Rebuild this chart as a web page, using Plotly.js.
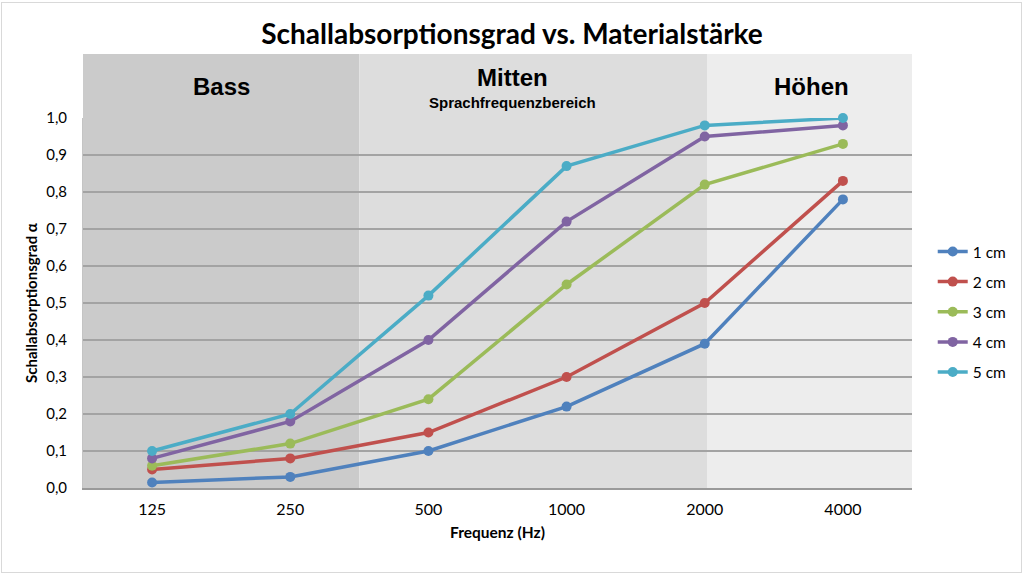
<!DOCTYPE html>
<html>
<head>
<meta charset="utf-8">
<script src="https://cdn.plot.ly/plotly-3.0.1.min.js"></script>
<style>
  body { margin: 0; background: #fff; }
  #wrap { position: relative; width: 1024px; height: 575px; }
  #chart { width: 1024px; height: 575px; }
  #frame { position: absolute; left: 1px; top: 2px; width: 1019px; height: 569px;
           border: 1px solid #d9d9d9; pointer-events: none; }
</style>
</head>
<body>
<div id="wrap">
  <div id="chart"></div>
  <div id="frame"></div>
</div>
<script>
// frequencies (category axis)
var freqs = ['125', '250', '500', '1000', '2000', '4000'];

// absorption coefficient per material thickness
var seriesNames = ['1 cm', '2 cm', '3 cm', '4 cm', '5 cm'];
var cm1 = [0.015, 0.03, 0.10, 0.22, 0.39, 0.78];
var cm2 = [0.05, 0.08, 0.15, 0.30, 0.50, 0.83];
var cm3 = [0.06, 0.12, 0.24, 0.55, 0.82, 0.93];
var cm4 = [0.08, 0.18, 0.40, 0.72, 0.95, 0.98];
var cm5 = [0.10, 0.20, 0.52, 0.87, 0.98, 1.00];
var seriesColors = ['#4F81BD', '#C0504D', '#9BBB59', '#8064A2', '#4BACC6'];

// frequency bands (positions in category units)
var bandNames = ['Bass', 'Mitten', 'Höhen'];
var bandStart = [-0.5, 1.5, 4.02];
var bandEnd = [1.5, 4.02, 5.5];
var bandColors = ['#cbcbcb', '#dddddd', '#ededed'];

var yTicks = [0, 0.1, 0.2, 0.3, 0.4, 0.5, 0.6, 0.7, 0.8, 0.9, 1.0];

var allValues = [cm1, cm2, cm3, cm4, cm5];
var data = [];
for (var i = 0; i < allValues.length; i++) {
  data.push({
    x: freqs,
    y: allValues[i],
    name: seriesNames[i],
    legendgroup: 'g' + i,
    type: 'scatter',
    mode: 'lines+markers',
    cliponaxis: false,
    line: {color: seriesColors[i], width: 3.5},
    marker: {color: seriesColors[i], size: 10}
  });
}

var bandTop = 1.173;
var shapes = [];
for (var b = 0; b < bandNames.length; b++) {
  shapes.push({
    type: 'rect', layer: 'below',
    xref: 'x', yref: 'paper',
    x0: bandStart[b], x1: bandEnd[b], y0: 0, y1: bandTop,
    fillcolor: bandColors[b], line: {width: 0}
  });
}

var bandFont = {family: 'Liberation Sans, Arial, sans-serif', size: 24, color: '#000'};
function label(txt, x, y, font) {
  return {text: txt, x: x, y: y, xref: 'x', yref: 'paper', xanchor: 'center', yanchor: 'middle',
          showarrow: false, font: font};
}
var annotations = [
  label('<b>Bass</b>', 0.5, 1.084, bandFont),
  label('<b>Mitten</b>', 2.61, 1.109, bandFont),
  label('<b>Sprachfrequenzbereich</b>', 2.61, 1.043,
        {family: 'Liberation Sans, Arial, sans-serif', size: 15, color: '#000'}),
  label('<b>Höhen</b>', 4.77, 1.084, bandFont)
];

var layout = {
  width: 1024, height: 575,
  margin: {l: 83, r: 112, t: 118, b: 87},
  paper_bgcolor: 'rgba(0,0,0,0)',
  plot_bgcolor: 'rgba(0,0,0,0)',
  separators: ',.',
  font: {family: 'Lato, sans-serif', size: 14, color: '#000'},
  title: {
    text: '<b>Schallabsorptionsgrad vs. Materialstärke</b>',
    x: 0.5, xref: 'container', xanchor: 'center',
    y: 1 - 34 / 575, yref: 'container', yanchor: 'middle',
    font: {family: 'Lato, sans-serif', size: 28, color: '#000'}
  },
  xaxis: {
    type: 'category',
    range: [-0.5, 5.5],
    showgrid: false,
    showline: true, linecolor: '#9a9a9a', linewidth: 2,
    ticks: '', ticklabelstandoff: 6,
    tickfont: {family: 'Lato, sans-serif', size: 16},
    title: {text: '<b>Frequenz (Hz)</b>', standoff: 10, font: {family: 'Lato, sans-serif', size: 15.5}}
  },
  yaxis: {
    range: [0, 1],
    tickvals: yTicks,
    tickformat: '.1f',
    showgrid: true, gridcolor: '#a3a3a3', gridwidth: 1.5,
    zeroline: false,
    showline: true, linecolor: '#c4c4c4', linewidth: 1,
    ticks: '', ticklabelstandoff: 12,
    tickfont: {family: 'Lato, sans-serif', size: 15},
    title: {text: '<b>Schallabsorptionsgrad α</b>', standoff: 4, font: {family: 'Lato, sans-serif', size: 15}}
  },
  legend: {
    x: 1.025, xanchor: 'left', y: 0.476, yanchor: 'middle',
    tracegroupgap: 7,
    bgcolor: 'rgba(0,0,0,0)',
    font: {family: 'Lato, sans-serif', size: 15.5}
  },
  shapes: shapes,
  annotations: annotations
};

Plotly.newPlot('chart', data, layout, {displayModeBar: false, staticPlot: true});
</script>
</body>
</html>
